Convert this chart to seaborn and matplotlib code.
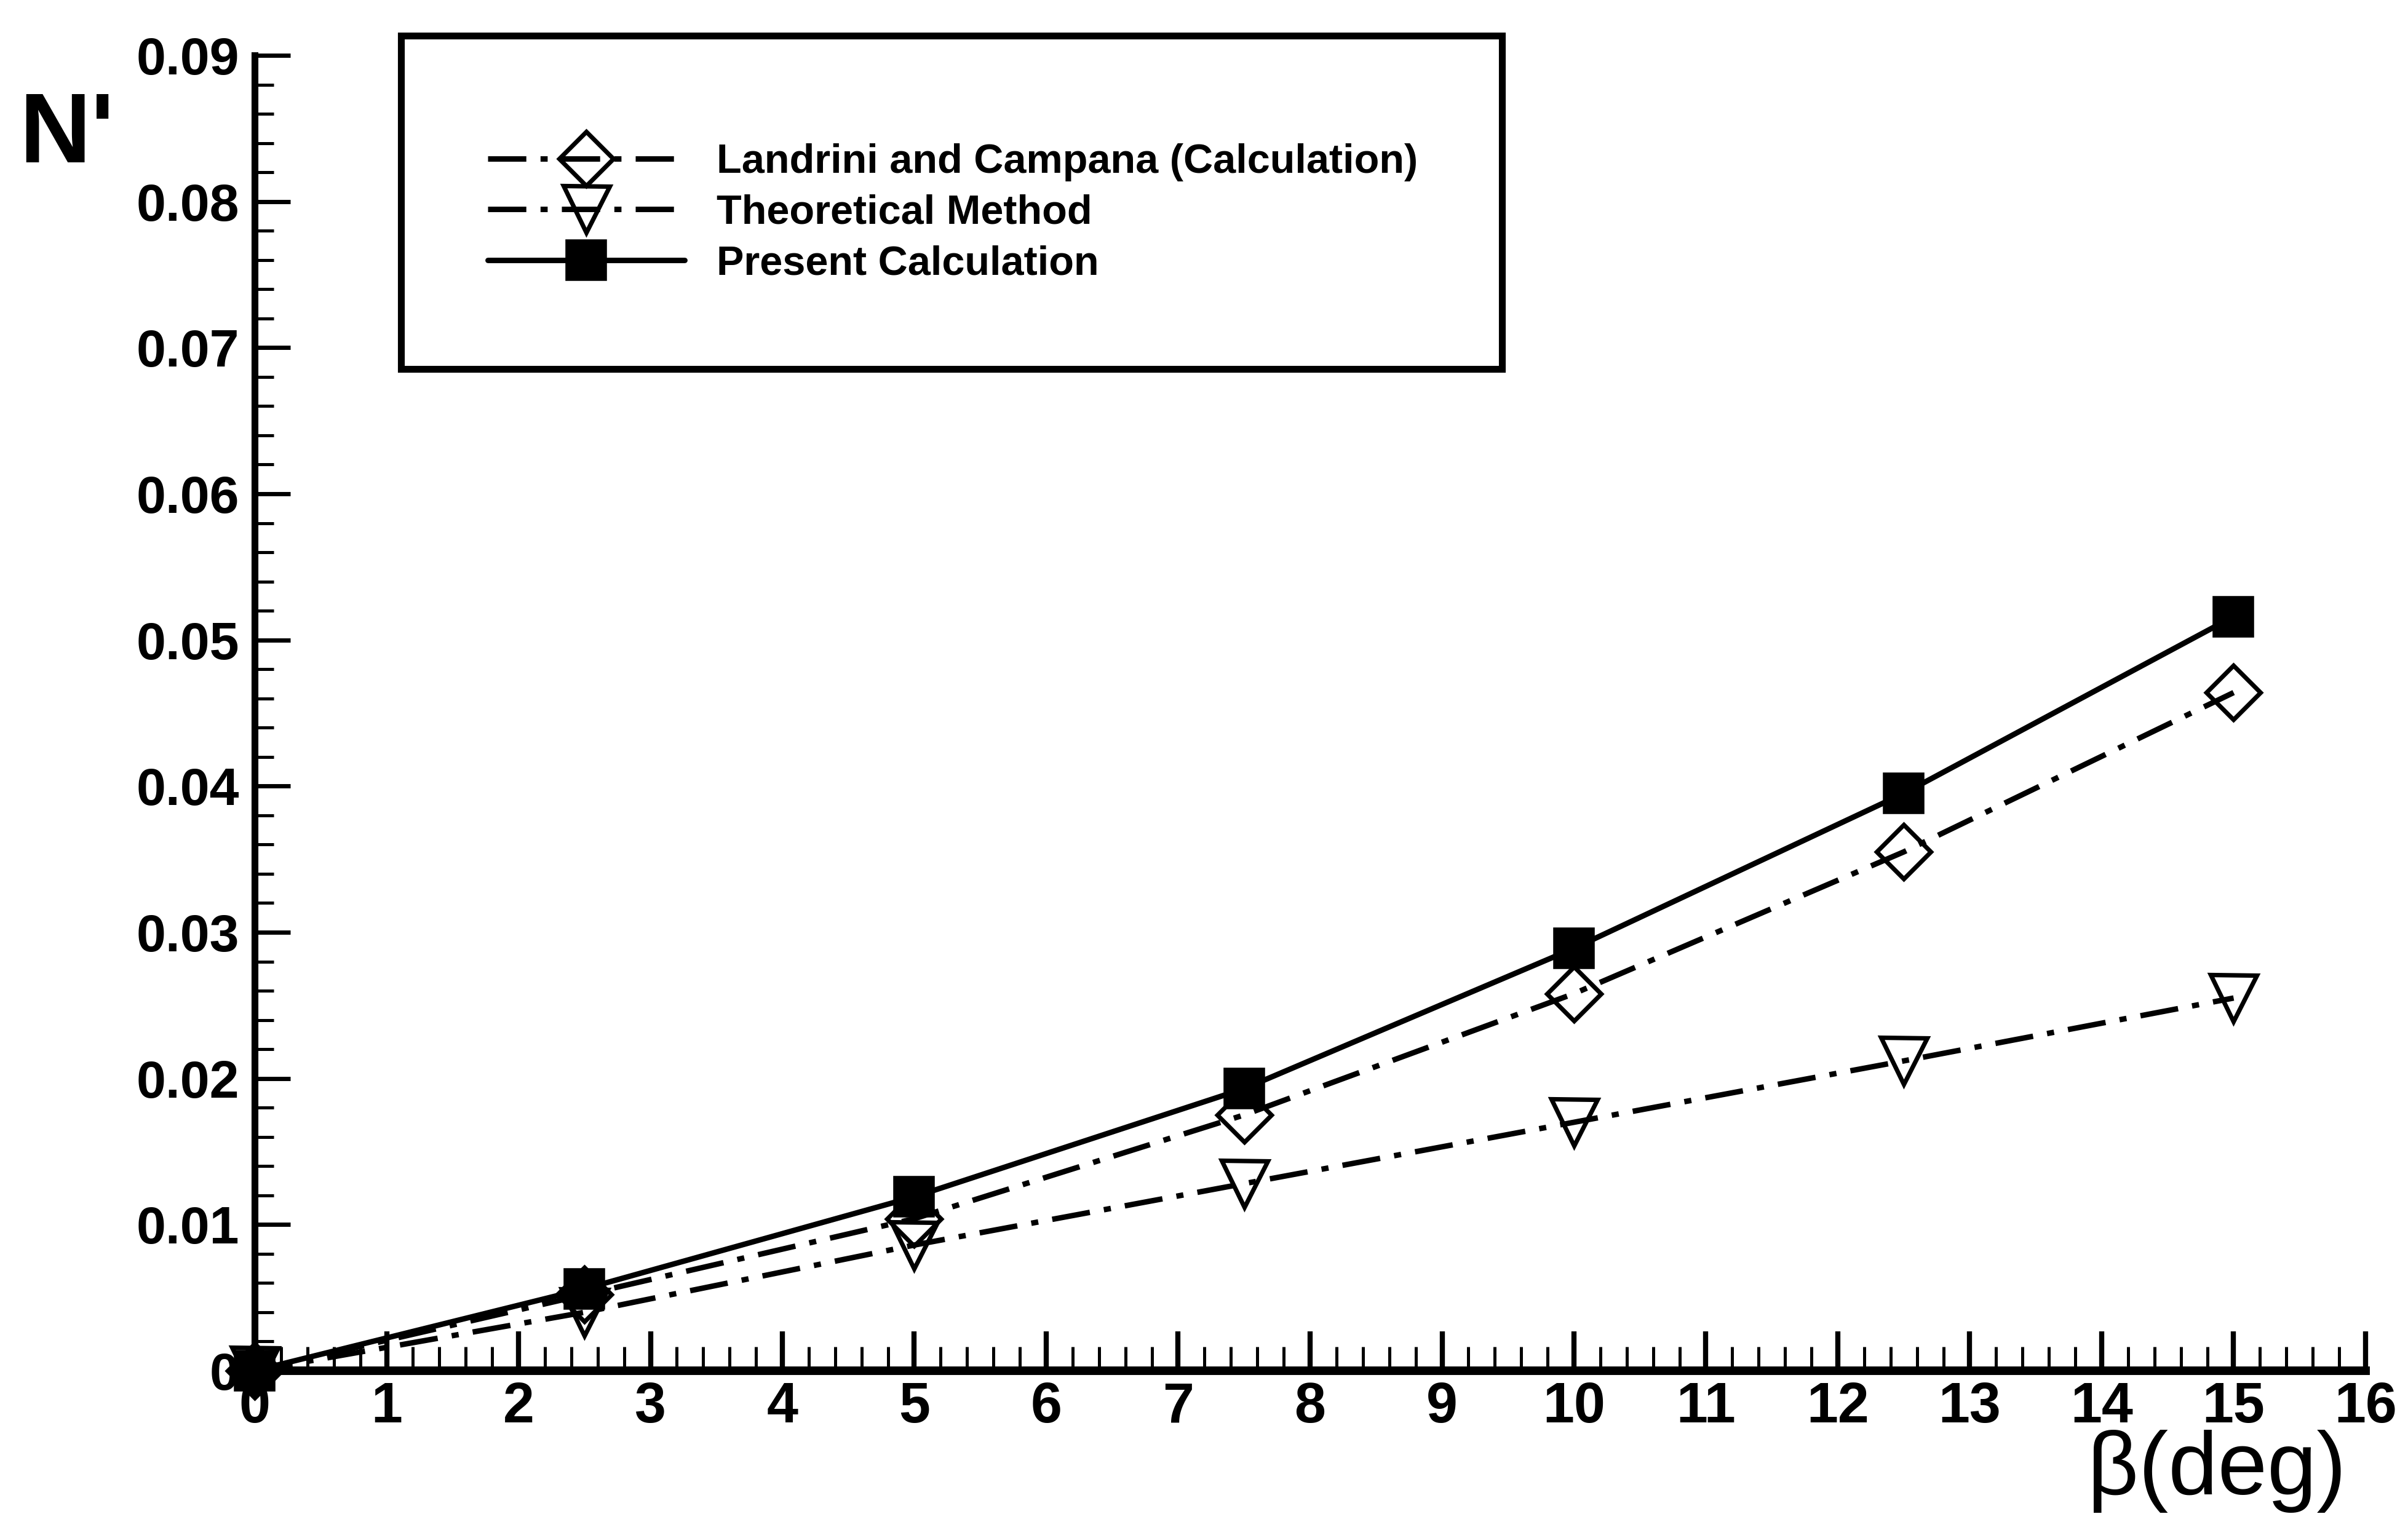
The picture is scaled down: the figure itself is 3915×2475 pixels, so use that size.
import numpy as np
import pandas as pd
import matplotlib
matplotlib.use("Agg")
import matplotlib.pyplot as plt
import seaborn as sns
from matplotlib.ticker import MultipleLocator
from matplotlib.patches import Rectangle

# ---------------- data ----------------
beta = [0, 2.5, 5, 7.5, 10, 12.5, 15]
landrini = [0, 0.0052, 0.0104, 0.0175, 0.0258, 0.0355, 0.0464]
theoretical = [0, 0.0040, 0.0086, 0.0128, 0.0170, 0.0212, 0.0255]
present = [0, 0.0056, 0.0119, 0.0193, 0.0289, 0.0395, 0.0516]
series_names = ["Landrini and Campana (Calculation)", "Theoretical Method", "Present Calculation"]
x_ticks = list(range(0, 17))
x_tick_labels = [str(t) for t in x_ticks]
y_ticks = [0, 0.01, 0.02, 0.03, 0.04, 0.05, 0.06, 0.07, 0.08, 0.09]
y_tick_labels = ["0", "0.01", "0.02", "0.03", "0.04", "0.05", "0.06", "0.07", "0.08", "0.09"]
x_label = "β(deg)"
y_label = "N'"

df = pd.DataFrame({
    "beta": beta * 3,
    "N": landrini + theoretical + present,
    "series": [n for n in series_names for _ in beta],
})

# ---------------- style ----------------
sns.set_style("ticks")
plt.rcParams["font.family"] = ["Liberation Sans", "DejaVu Sans"]
plt.rcParams["text.color"] = "black"
plt.rcParams["xtick.color"] = "black"
plt.rcParams["ytick.color"] = "black"
plt.rcParams["axes.labelcolor"] = "black"
plt.rcParams["axes.edgecolor"] = "black"

W, H = 3916, 2475
fig = plt.figure(figsize=(W / 200, H / 200), dpi=200)
fig.patch.set_facecolor("white")
x0, x1 = 414, 3846
y0, y1 = 2229, 90
ax = fig.add_axes([x0 / W, 1 - y0 / H, (x1 - x0) / W, (y0 - y1) / H])
ax.set_facecolor("white")

LW = 3.2
dashdot = (0, (7.0, 2.6, 1.3, 2.6))
styles = {
    series_names[0]: dict(marker="D", markersize=22.5, markerfacecolor="none",
                          mec="black", mew=2.6, linestyle=dashdot),
    series_names[1]: dict(marker="v", markersize=27, markerfacecolor="none",
                          mec="black", mew=2.6, linestyle=dashdot),
    series_names[2]: dict(marker="s", markersize=22, markerfacecolor="black",
                          mec="black", mew=2, linestyle="-"),
}

for name in series_names:
    sub = df[df["series"] == name]
    sns.lineplot(data=sub, x="beta", y="N", ax=ax, color="black", linewidth=LW,
                 label=name, clip_on=False, errorbar=None, sort=False,
                 **styles[name])

handles, labels = ax.get_legend_handles_labels()
if ax.get_legend() is not None:
    ax.get_legend().remove()

# ---------------- axes ----------------
ax.set_xlim(0, 16)
ax.set_ylim(0, 0.09)
ax.set_xticks(x_ticks, labels=x_tick_labels, fontsize=33, fontweight="bold")
ax.set_yticks(y_ticks, labels=y_tick_labels, fontsize=31, fontweight="bold")
ax.xaxis.set_minor_locator(MultipleLocator(0.2))
ax.yaxis.set_minor_locator(MultipleLocator(0.002))
ax.tick_params(axis="x", which="major", direction="in", length=23, width=3, pad=6, color="black")
ax.tick_params(axis="x", which="minor", direction="in", length=14, width=1.8, color="black")
ax.tick_params(axis="y", which="major", direction="in", length=21, width=2.5, pad=9, color="black")
ax.tick_params(axis="y", which="minor", direction="in", length=11, width=1.8, color="black")
ax.set_xlabel("")
ax.set_ylabel("")
sns.despine(ax=ax)
ax.spines["left"].set_linewidth(4)
ax.spines["bottom"].set_linewidth(5)

# axis titles
fig.text(109 / W, 1 - 222 / H, y_label, ha="center", va="center",
         fontsize=58, fontweight="bold", color="black")
fig.text(3815 / W, 1 - 2430 / H, x_label, ha="right", va="baseline",
         fontsize=52, color="black")

# ---------------- legend ----------------
fig.legend(handles, labels, loc="upper left",
           bbox_to_anchor=(793 / W, 1 - 233 / H), bbox_transform=fig.transFigure,
           frameon=False, borderpad=0, borderaxespad=0,
           handlelength=4.8, handletextpad=0.78, labelspacing=0.31, numpoints=1,
           prop={"family": ["Liberation Sans"], "weight": "bold", "size": 24})
box = Rectangle((652 / W, 1 - 600 / H), (2442 - 652) / W, (600 - 58) / H,
                transform=fig.transFigure, fill=False, edgecolor="black", linewidth=4)
fig.add_artist(box)

fig.savefig("out.png", dpi=200, facecolor="white")
